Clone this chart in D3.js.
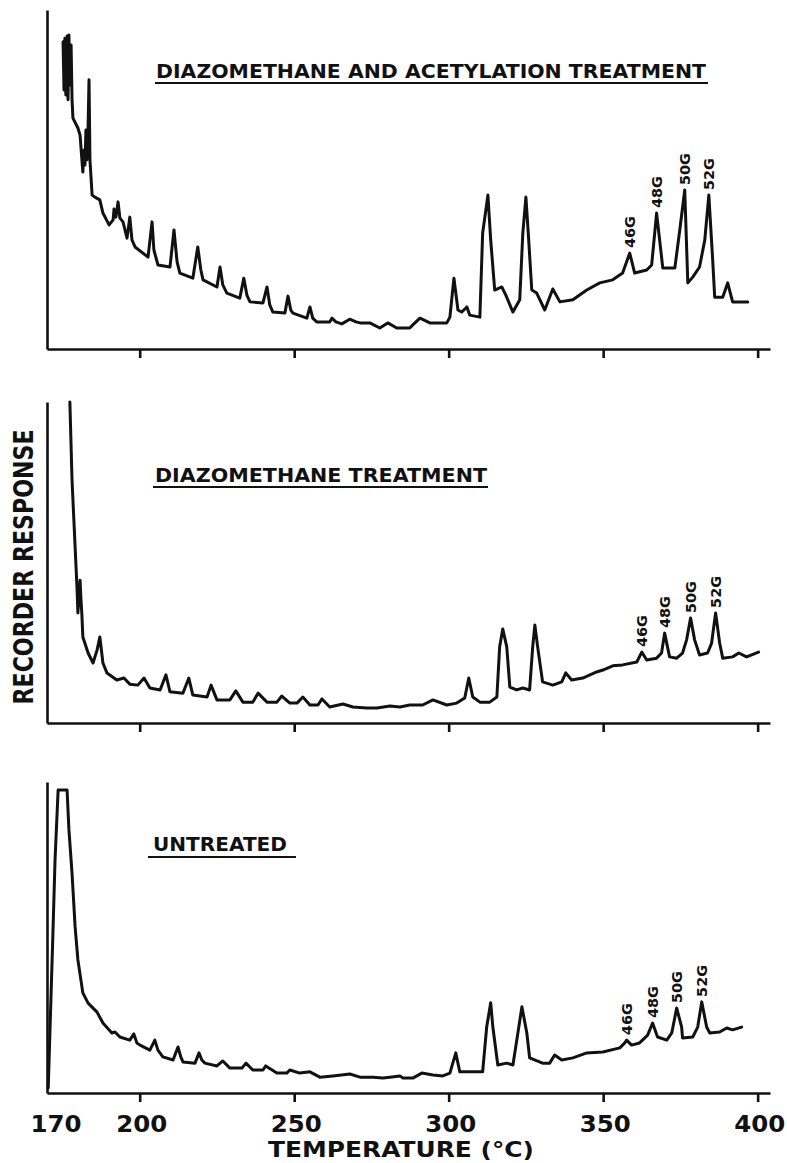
<!DOCTYPE html>
<html>
<head>
<meta charset="utf-8">
<script src="https://cdn.jsdelivr.net/npm/d3@7"></script>
<style>
  body { margin: 0; background: #fff; }
  svg { display: block; }
  text { font-family: "DejaVu Sans", "Liberation Sans", sans-serif; font-weight: bold; fill: #111; }
</style>
</head>
<body>
<svg id="chart" width="787" height="1163"></svg>
<script>
// Column temperature axis (°C)
const tempTicks = [200, 250, 300, 350, 400];
const tempLabels = [170, 200, 250, 300, 350, 400];
const peakNames = ["46G", "48G", "50G", "52G"];

// Recorder response, % of full scale, against column temperature (°C)
const acetylated = [
  [175.2,90.6],[175.5,76.4],[175.8,91.7],[176.1,74.9],[176.5,92.3],[176.8,73.5],[177.1,92.6],[177.4,77.9],
  [177.8,89.7],[178.1,73.5],[178.4,68.1],[180.0,65.2],[180.7,63.1],[181.6,52.2],[182.0,58.7],[182.3,54.3],
  [182.6,64.6],[182.9,55.8],[183.3,65.5],[183.6,79.4],[183.9,55.8],[184.6,45.4],[185.5,44.8],[187.1,44.0],
  [188.1,40.1],[190.1,36.6],[191.4,38.1],[191.7,41.3],[192.3,38.9],[193.0,43.4],[193.6,38.6],[194.6,37.5],
  [195.9,32.7],[196.8,38.9],[197.5,32.2],[198.5,30.1],[202.7,27.1],[204.0,37.5],[204.6,29.2],[205.9,24.8],
  [209.8,24.2],[211.1,35.1],[212.1,25.7],[213.0,22.4],[217.2,20.9],[218.8,30.1],[219.8,23.3],[220.5,20.4],
  [225.0,18.3],[226.0,24.2],[226.9,18.9],[228.2,16.5],[232.4,15.0],[233.7,20.9],[234.7,15.9],[235.7,13.9],
  [239.9,13.6],[241.2,18.3],[242.1,13.0],[243.1,10.9],[247.0,10.6],[248.0,15.6],[248.9,11.5],[249.6,10.6],
  [254.1,9.1],[255.1,12.4],[256.0,9.1],[257.3,8.0],[261.5,8.0],[262.2,9.1],[263.5,8.0],[265.4,7.4],
  [268.0,8.8],[270.0,8.0],[271.3,7.7],[274.5,7.7],[277.7,6.2],[280.3,7.7],[283.2,6.2],[287.4,6.2],
  [288.4,7.1],[290.7,9.1],[293.9,7.7],[299.4,7.7],[300.4,9.4],[301.7,20.9],[303.0,11.5],[304.2,10.9],
  [305.9,12.4],[306.8,10.0],[310.1,9.4],[311.0,34.2],[312.7,45.4],[313.6,32.2],[314.9,17.4],[317.2,18.3],
  [318.5,15.9],[320.8,10.9],[323.0,14.5],[324.0,34.2],[325.0,44.8],[325.9,32.2],[326.9,17.4],[328.5,16.5],
  [331.1,11.5],[333.7,17.7],[336.0,13.9],[340.2,14.5],[344.7,17.4],[348.9,19.5],[353.1,20.4],[356.3,22.4],
  [358.6,28.3],[360.2,22.4],[364.1,23.3],[365.7,24.8],[367.3,40.1],[369.3,23.9],[373.2,23.9],[374.8,35.1],
  [376.4,46.9],[377.4,19.5],[379.0,21.2],[381.2,24.2],[382.9,32.2],[384.2,45.4],[385.4,27.1],[386.1,15.3],
  [388.7,15.3],[390.3,19.5],[391.9,13.9],[396.8,13.9]
];

const methylated = [
  [177.4,100.0],[178.1,75.7],[179.1,54.8],[179.7,42.4],[180.0,34.3],[180.4,39.9],[180.7,44.5],[181.0,38.3],
  [181.3,33.6],[181.6,26.8],[183.3,21.8],[184.9,18.7],[186.2,22.7],[187.1,26.8],[187.8,21.2],[188.1,18.7],
  [189.4,15.6],[192.6,13.4],[194.9,14.0],[196.8,12.1],[199.4,11.8],[201.4,14.0],[203.3,10.9],[206.6,10.3],
  [208.5,15.0],[209.8,9.7],[214.0,9.3],[215.9,14.0],[217.2,8.7],[221.8,8.1],[223.1,11.8],[225.0,7.2],
  [229.2,7.2],[231.1,10.0],[233.4,6.5],[236.6,6.5],[238.3,9.3],[241.2,6.5],[244.4,6.5],[246.0,8.4],
  [248.6,6.2],[250.9,6.2],[252.8,8.1],[255.1,5.6],[257.7,5.6],[259.0,7.5],[261.5,5.0],[265.8,5.9],
  [269.0,5.0],[273.5,4.7],[276.8,4.7],[281.0,5.3],[284.2,5.0],[287.4,5.6],[291.6,5.6],[294.9,7.2],
  [299.4,5.6],[302.6,6.2],[305.2,7.8],[306.5,14.0],[307.8,8.1],[310.1,6.5],[313.3,6.5],[315.6,8.1],
  [316.5,23.7],[317.5,29.3],[318.8,23.7],[319.8,11.2],[322.0,10.3],[324.0,10.9],[326.2,10.3],[327.2,23.7],
  [327.9,30.5],[328.8,23.7],[330.4,12.8],[333.7,11.8],[336.6,12.8],[337.9,15.6],[339.8,13.4],[343.4,14.0],
  [347.9,15.9],[349.9,16.5],[353.1,17.8],[356.3,18.1],[360.9,19.0],[362.5,22.1],[364.1,19.6],[367.3,20.2],
  [368.9,21.8],[369.9,28.0],[371.5,20.6],[373.8,20.2],[375.7,21.8],[377.0,25.9],[378.3,32.7],[379.6,25.9],
  [381.2,21.2],[383.8,21.8],[385.1,24.9],[386.4,34.3],[387.7,24.9],[388.7,20.2],[391.9,20.6],[393.9,21.8],
  [396.4,20.6],[400.3,22.1]
];

const untreated = [
  [170.4,1.6],[171.9,50.8],[172.6,74.9],[173.6,97.4],[176.5,97.4],[177.1,84.6],[178.1,70.7],[179.1,53.4],
  [180.0,42.8],[181.6,32.2],[183.3,28.9],[186.2,26.0],[188.1,22.5],[191.0,19.3],[192.0,19.6],[193.6,18.0],
  [196.8,17.0],[198.1,19.0],[199.1,16.1],[200.1,15.4],[203.3,13.8],[204.9,17.0],[205.9,13.8],[207.5,11.6],
  [210.8,10.6],[212.4,14.8],[213.3,11.6],[214.0,10.0],[217.9,9.6],[219.2,12.9],[220.1,10.6],[221.1,9.6],
  [225.0,8.7],[226.9,10.3],[229.2,8.0],[233.1,8.0],[234.4,9.6],[236.6,7.4],[239.9,7.4],[240.8,8.7],
  [244.4,6.4],[247.6,6.4],[248.6,7.4],[251.8,6.4],[255.1,6.8],[258.3,5.1],[262.5,5.5],[268.0,6.1],
  [271.3,5.1],[275.5,5.1],[278.7,4.8],[281.0,5.1],[284.2,5.5],[285.2,4.8],[288.4,4.8],[291.3,6.4],
  [294.9,5.8],[298.1,5.5],[300.4,6.4],[302.3,12.9],[303.6,6.8],[306.8,6.8],[311.0,6.8],[312.3,21.2],
  [313.6,29.0],[314.3,21.2],[315.9,9.0],[318.8,9.6],[320.8,9.0],[322.4,19.3],[323.7,27.7],[325.3,19.3],
  [326.2,11.3],[330.4,9.6],[332.7,9.6],[334.3,12.2],[336.6,10.6],[340.2,11.3],[344.7,12.9],[349.9,13.2],
  [355.4,14.5],[357.0,16.1],[357.6,17.0],[359.2,15.4],[361.8,16.1],[364.4,18.6],[366.0,22.5],[367.6,18.0],
  [370.6,17.0],[372.2,19.3],[373.8,27.3],[375.4,21.2],[375.7,17.7],[379.0,18.0],[380.6,21.2],[381.9,29.3],
  [383.5,21.2],[384.5,19.3],[387.7,19.6],[390.0,20.9],[391.9,20.3],[394.8,21.2]
];

// Elution temperatures of the labelled even-carbon peaks
const acetylatedPeaks = [358.6, 367.3, 376.4, 384.2];
const methylatedPeaks = [362.5, 369.9, 378.3, 386.4];
const untreatedPeaks = [357.6, 366.0, 373.8, 381.9];

const titles = ["DIAZOMETHANE AND ACETYLATION TREATMENT", "DIAZOMETHANE TREATMENT", "UNTREATED"];

// ---- layout ----
const svg = d3.select("#chart");
const x = d3.scaleLinear().domain([170, 404]).range([47, 770]);

const panels = [
  { data: acetylated, peaks: acetylatedPeaks, title: titles[0], base: 349, top: 10,
    title_x: 156, title_y: 78, title_w: 550, ul_y: 83, ul_x0: 155, ul_x1: 708 },
  { data: methylated, peaks: methylatedPeaks, title: titles[1], base: 723, top: 402,
    title_x: 155, title_y: 482, title_w: 332, ul_y: 487, ul_x0: 153, ul_x1: 488 },
  { data: untreated, peaks: untreatedPeaks, title: titles[2], base: 1093, top: 782,
    title_x: 153, title_y: 851, title_w: 134, ul_y: 857, ul_x0: 148, ul_x1: 296 }
];

const line = d3.line().x(d => x(d[0])).curve(d3.curveLinear);

panels.forEach((p, i) => {
  const y = d3.scaleLinear().domain([0, 100]).range([p.base, p.top]);
  const g = svg.append("g");

  // temperature axis with downward ticks
  const xAxis = d3.axisBottom(x).tickValues(tempTicks).tickSize(9).tickSizeOuter(0).tickFormat("");
  const gx = g.append("g").attr("transform", `translate(0,${p.base})`).call(xAxis);
  gx.select(".domain").attr("stroke", "#111").attr("stroke-width", 2.6);
  gx.selectAll(".tick line").attr("stroke", "#111").attr("stroke-width", 2.6);

  // response axis: plain vertical rule
  const yAxis = d3.axisLeft(y).tickValues([]).tickSizeOuter(0);
  const gy = g.append("g").attr("transform", `translate(${x(170)},0)`).call(yAxis);
  gy.select(".domain").attr("stroke", "#111").attr("stroke-width", 2.6);

  // trace
  g.append("path")
    .datum(p.data)
    .attr("d", line.y(d => y(d[1])))
    .attr("fill", "none")
    .attr("stroke", "#111")
    .attr("stroke-width", 3)
    .attr("stroke-linejoin", "round")
    .attr("stroke-linecap", "round");

  // underlined panel title
  g.append("text")
    .attr("x", p.title_x).attr("y", p.title_y)
    .attr("font-size", 19)
    .attr("textLength", p.title_w).attr("lengthAdjust", "spacingAndGlyphs")
    .text(p.title);
  g.append("line")
    .attr("x1", p.ul_x0).attr("x2", p.ul_x1)
    .attr("y1", p.ul_y).attr("y2", p.ul_y)
    .attr("stroke", "#111").attr("stroke-width", 2);

  // peak labels standing on each labelled peak
  p.peaks.forEach((t, k) => {
    const near = p.data.filter(d => Math.abs(d[0] - t) <= 1.2);
    const apex = near.reduce((a, b) => (b[1] > a[1] ? b : a));
    g.append("text")
      .attr("transform", `translate(${x(apex[0])},${y(apex[1]) - 5}) rotate(-90)`)
      .attr("dy", "0.36em")
      .attr("font-size", 14)
      .attr("textLength", 32).attr("lengthAdjust", "spacingAndGlyphs")
      .text(peakNames[k]);
  });
});

// temperature labels under the bottom panel
svg.append("g").selectAll("text")
  .data(tempLabels)
  .join("text")
  .attr("x", d => x(d) + (d === 170 ? 9 : 2))
  .attr("y", 1132)
  .attr("text-anchor", "middle")
  .attr("font-size", 23)
  .attr("textLength", 51).attr("lengthAdjust", "spacingAndGlyphs")
  .text(d => d);

svg.append("text")
  .attr("x", 401).attr("y", 1157)
  .attr("text-anchor", "middle")
  .attr("font-size", 22)
  .attr("textLength", 266).attr("lengthAdjust", "spacingAndGlyphs")
  .text("TEMPERATURE (°C)");

svg.append("text")
  .attr("transform", "translate(33,567) rotate(-90)")
  .attr("text-anchor", "middle")
  .attr("font-size", 27)
  .attr("textLength", 275).attr("lengthAdjust", "spacingAndGlyphs")
  .text("RECORDER RESPONSE");
</script>
</body>
</html>
